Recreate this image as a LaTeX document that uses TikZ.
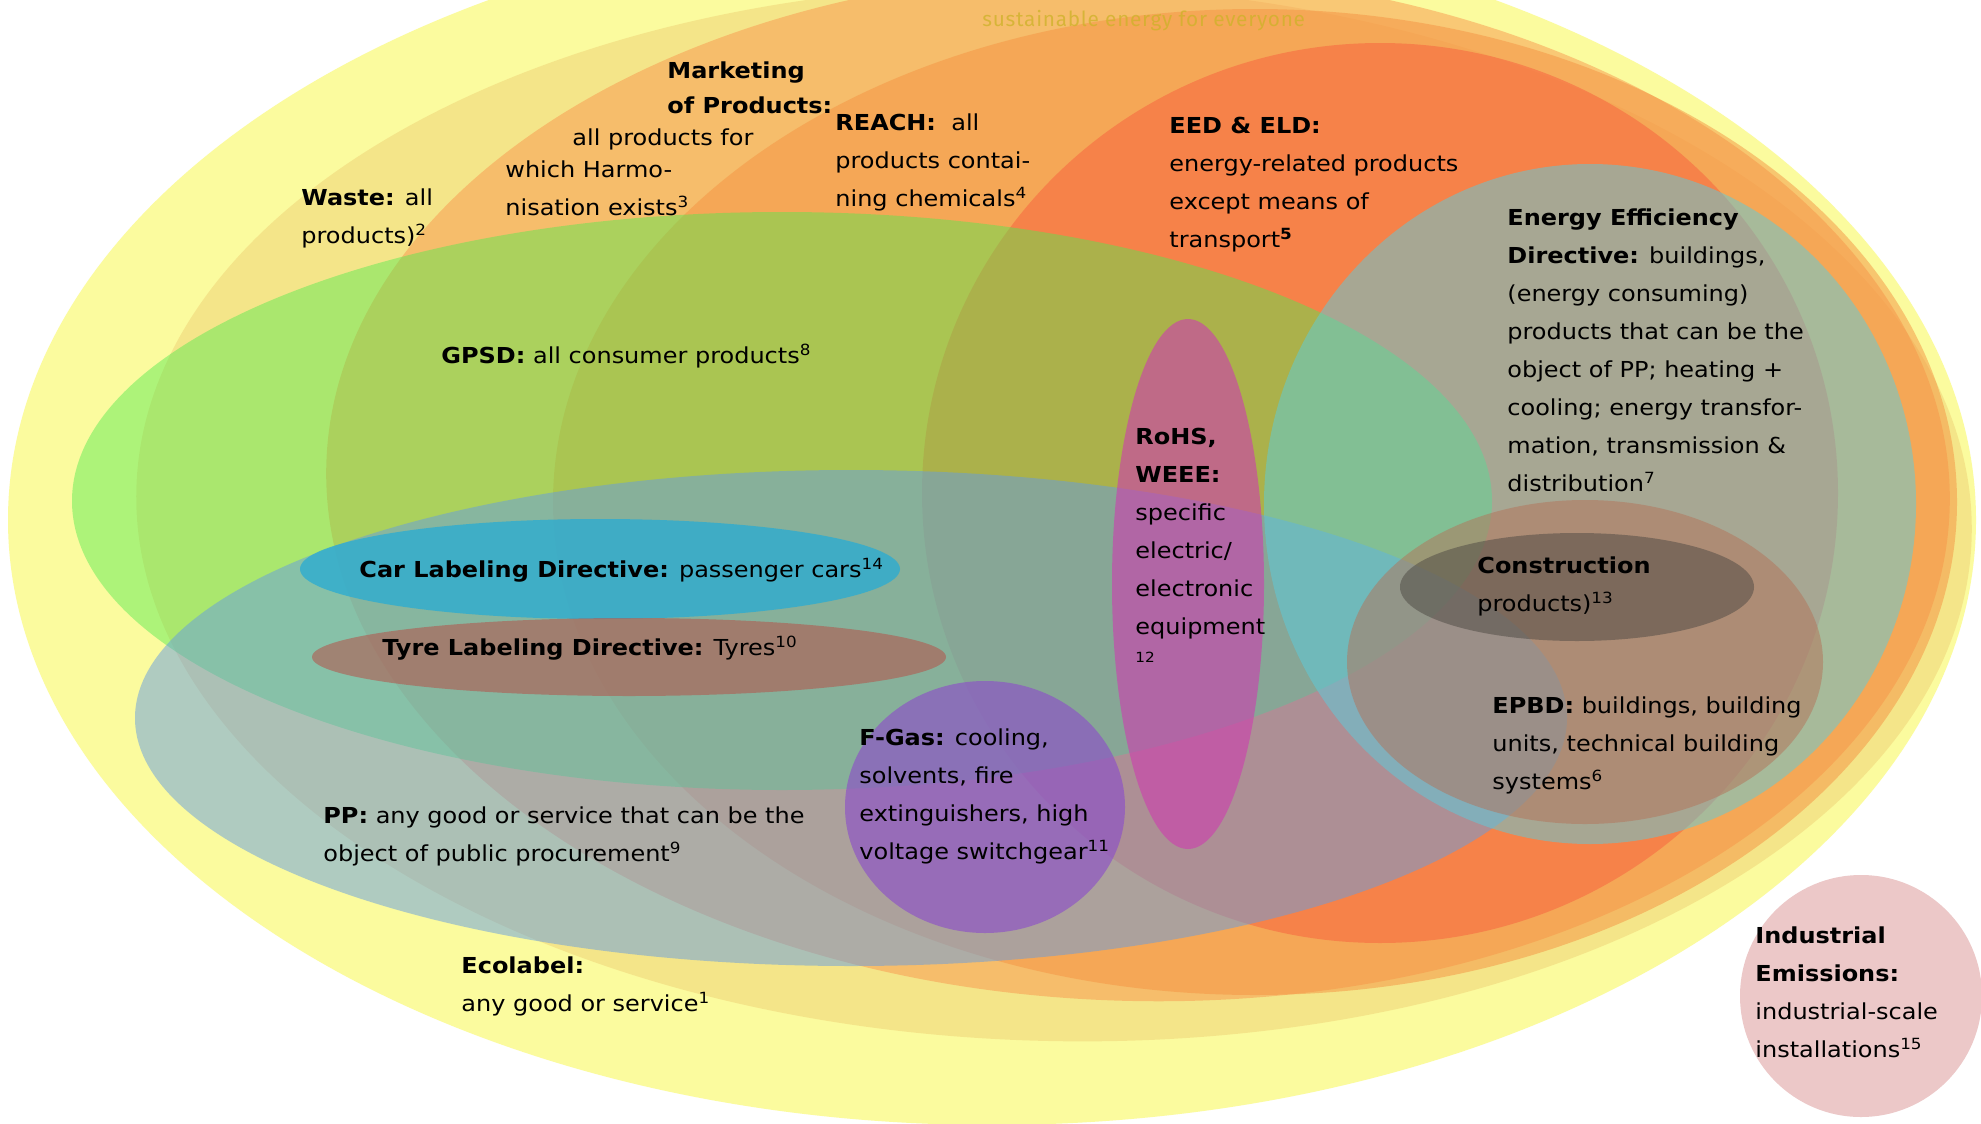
\documentclass[tikz,border=0pt]{standalone}
\usepackage{fontspec}
\setmainfont{DejaVu Sans}[FakeStretch=1.09]
\newfontfamily\taglinefont{Fira Sans}[LetterSpace=3.5]
\begin{document}
\begin{tikzpicture}[x=0.5pt,y=-0.5pt,
  region/.style={fill opacity=0.5},
  lbl/.style={anchor=base west, align=left, inner sep=0pt,
    font=\fontsize{11pt}{18.95pt}\selectfont},
]
% scope colours
\definecolor{ecoYellow}{RGB}{251,251,158}
\definecolor{wasteC}{RGB}{239,209,118}
\definecolor{mktC}{RGB}{249,150,78}
\definecolor{reachC}{RGB}{245,146,66}
\definecolor{eedC}{RGB}{248,94,62}
\definecolor{gpsdC}{RGB}{80,235,78}
\definecolor{ppC}{RGB}{101,157,226}
\definecolor{eeC}{RGB}{90,205,222}
\definecolor{epbdC}{RGB}{180,114,88}
\definecolor{constrC}{RGB}{76,72,66}
\definecolor{carC}{RGB}{45,172,208}
\definecolor{tyreC}{RGB}{178,90,80}
\definecolor{fgasC}{RGB}{140,80,200}
\definecolor{rohsC}{RGB}{205,60,175}
\definecolor{indC}{RGB}{236,200,200}
\definecolor{taglineC}{RGB}{205,178,40}

\useasboundingbox (0,0) rectangle (1981,1124);
\fill[white] (0,0) rectangle (1981,1124);

% nested regulation scopes
\fill[ecoYellow] (992,520) ellipse [x radius=492pt, y radius=302.5pt];
\fill[wasteC, region, rotate around={-1.5:(1054,513)}] (1054,513) ellipse [x radius=459pt, y radius=264pt];
\fill[mktC, region, rotate around={-1.5:(1138,486)}] (1138,486) ellipse [x radius=406pt, y radius=257.5pt];
\fill[reachC, region] (1255,502) ellipse [x radius=351pt, y radius=246.5pt];
\fill[eedC, region] (1380,493) ellipse [x radius=229pt, y radius=225pt];
\fill[gpsdC, fill opacity=0.45] (782,501) ellipse [x radius=355pt, y radius=144.5pt];
\fill[ppC, region] (851,718) ellipse [x radius=358pt, y radius=124pt];
\fill[eeC, region] (1590,504) ellipse [x radius=163pt, y radius=170pt];
\fill[epbdC, region] (1585,662) ellipse [x radius=119pt, y radius=81pt];
\fill[constrC, region] (1577,587) ellipse [x radius=88.5pt, y radius=27pt];
\fill[carC, fill opacity=0.8] (600,569) ellipse [x radius=150pt, y radius=25pt];
\fill[tyreC, fill opacity=0.6] (629,657) ellipse [x radius=158.5pt, y radius=19.5pt];
\fill[fgasC, fill opacity=0.65] (985,807) ellipse [x radius=70pt, y radius=63pt];
\fill[rohsC, fill opacity=0.6] (1188,584) ellipse [x radius=38pt, y radius=132.5pt];
\fill[indC] (1861,996) circle [radius=60.5pt];

% tagline
\node[anchor=base west, inner sep=0pt, text=taglineC, text opacity=0.75,
  font=\taglinefont\fontsize{10.4pt}{12pt}\selectfont] (tagline) at (982,26)
  {sustainable energy for everyone};

% labels (placed at the baseline of their last line)
\node[lbl] (waste) at (301,243) {\textbf{Waste:} all\\products)\textsuperscript{2}};
\node[lbl] (mktA) at (667,78) {\textbf{Marketing}};
\node[lbl] (mktB) at (667,113) {\textbf{of Products:}};
\node[lbl] (mktC) at (572,145) {all products for};
\node[lbl] (mktD) at (505,215) {which Harmo-\\nisation exists\textsuperscript{3}};
\node[lbl] (reach) at (835,206) {\textbf{REACH:}\ \ all\\products contai-\\ning chemicals\textsuperscript{4}};
\node[lbl] (eed) at (1169,247) {\textbf{EED \& ELD:}\\energy-related products\\except means of\\transport\textsuperscript{\textbf{5}}};
\node[lbl] (ee) at (1507,491) {\textbf{Energy Efficiency}\\\textbf{Directive:} buildings,\\(energy consuming)\\products that can be the\\object of PP; heating +\\cooling; energy transfor-\\mation, transmission \&\\distribution\textsuperscript{7}};
\node[lbl] (gpsd) at (441,363) {\textbf{GPSD:} all consumer products\textsuperscript{8}};
\node[lbl] (rohs) at (1135,634) {\textbf{RoHS,}\\\textbf{WEEE:}\\specific\\electric/\\electronic\\equipment};
\node[lbl, font=\fontsize{7pt}{8pt}\selectfont] (rohsfn) at (1135,662) {12};
\node[lbl] (car) at (359,577) {\textbf{Car Labeling Directive:} passenger cars\textsuperscript{14}};
\node[lbl] (constr) at (1477,611) {\textbf{Construction}\\products)\textsuperscript{13}};
\node[lbl] (tyre) at (382,655) {\textbf{Tyre Labeling Directive:} Tyres\textsuperscript{10}};
\node[lbl] (epbd) at (1492,789) {\textbf{EPBD:} buildings, building\\units, technical building\\systems\textsuperscript{6}};
\node[lbl] (fgas) at (859,859) {\textbf{F-Gas:} cooling,\\solvents, fire\\extinguishers, high\\voltage switchgear\textsuperscript{11}};
\node[lbl] (pp) at (323,861) {\textbf{PP:} any good or service that can be the\\object of public procurement\textsuperscript{9}};
\node[lbl] (eco) at (461,1011) {\textbf{Ecolabel:}\\any good or service\textsuperscript{1}};
\node[lbl] (ind) at (1755,1057) {\textbf{Industrial}\\\textbf{Emissions:}\\industrial-scale\\installations\textsuperscript{15}};
\end{tikzpicture}
\end{document}
